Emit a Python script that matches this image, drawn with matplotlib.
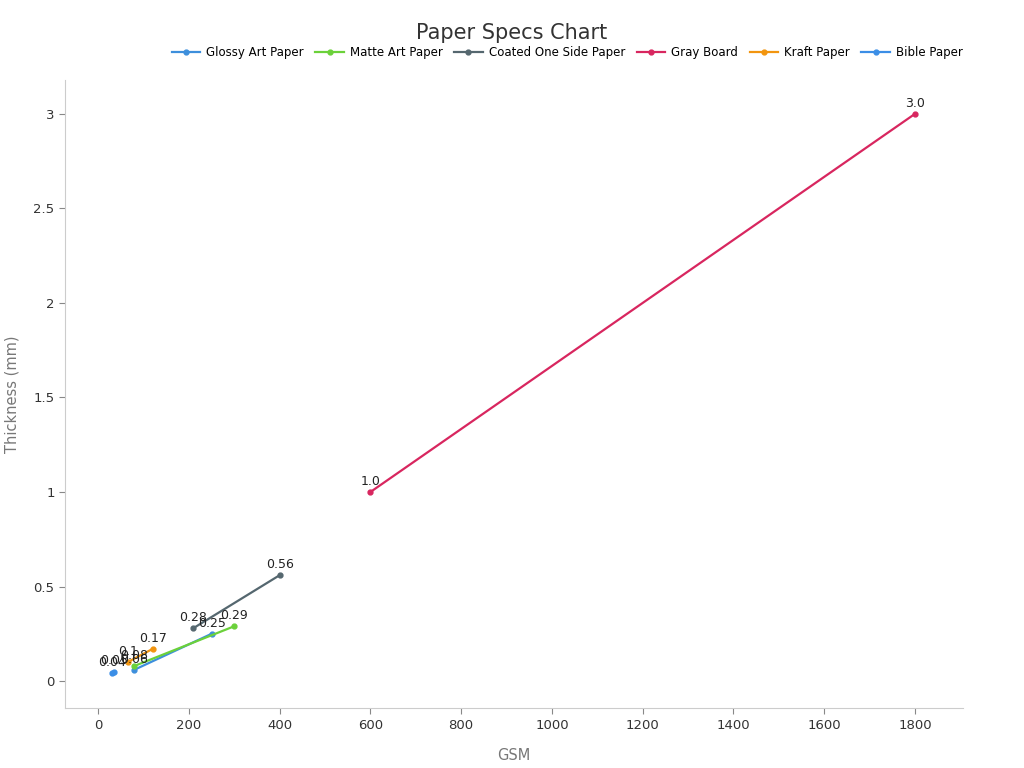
import matplotlib
matplotlib.use("Agg")
import matplotlib.pyplot as plt

# --- data ---
series_names = ["Glossy Art Paper", "Matte Art Paper", "Coated One Side Paper",
                "Gray Board", "Kraft Paper", "Bible Paper"]
glossy_gsm = [80, 250]
glossy_mm = [0.06, 0.25]
matte_gsm = [80, 300]
matte_mm = [0.08, 0.29]
coated_gsm = [210, 400]
coated_mm = [0.28, 0.56]
gray_gsm = [600, 1800]
gray_mm = [1.0, 3.0]
kraft_gsm = [65, 120]
kraft_mm = [0.1, 0.17]
bible_gsm = [30, 35]
bible_mm = [0.04, 0.05]

colors = ["#3d8fdc", "#6bd13a", "#55676f", "#d8265f", "#f2950f", "#3b8ee6"]
xs = [glossy_gsm, matte_gsm, coated_gsm, gray_gsm, kraft_gsm, bible_gsm]
ys = [glossy_mm, matte_mm, coated_mm, gray_mm, kraft_mm, bible_mm]

fig = plt.figure(figsize=(10.24, 7.68), dpi=100)
ax = fig.add_axes([0.0635, 0.078, 0.8765, 0.818])

for name, c, x, y in zip(series_names, colors, xs, ys):
    ax.plot(x, y, color=c, lw=1.6, marker="o", ms=3.5, label=name)
    for xi, yi in zip(x, y):
        ax.annotate(str(yi), (xi, yi), xytext=(0, 3), textcoords="offset points",
                    ha="center", va="bottom", fontsize=9, color="#222222")

ax.set_xlim(-73, 1905)
ax.set_ylim(-0.143, 3.18)
ax.set_xticks(range(0, 1801, 200))
ax.set_yticks([0, 0.5, 1, 1.5, 2, 2.5, 3])
ax.set_yticklabels(["0", "0.5", "1", "1.5", "2", "2.5", "3"])

for s in ["top", "right"]:
    ax.spines[s].set_visible(False)
for s in ["left", "bottom"]:
    ax.spines[s].set_color("#cccccc")
ax.tick_params(colors="#333333", labelsize=9.5, length=4)
ax.tick_params(axis="both", color="#888888")

ax.set_xlabel("GSM", fontsize=10.5, color="#777777", labelpad=12)
ax.set_ylabel("Thickness (mm)", fontsize=10.5, color="#777777", labelpad=10)

fig.suptitle("Paper Specs Chart", fontsize=15, color="#333333", y=0.97)
ax.legend(loc="center right", bbox_to_anchor=(1.0, 1.043), ncol=6, frameon=False,
          fontsize=8.5, handlelength=2.4, handletextpad=0.5, columnspacing=1.0,
          borderaxespad=0.0, borderpad=0.0)

fig.savefig("out.png", dpi=100)
